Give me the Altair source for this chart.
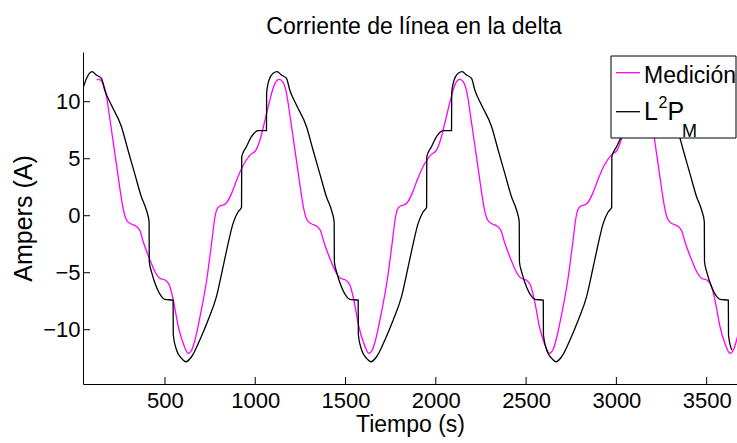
import altair as alt
import pandas as pd

# ---------------- data ----------------
TITLE = "Corriente de línea en la delta"
X_TITLE = "Tiempo (s)"
Y_TITLE = "Ampers (A)"
X_TICKS = [500, 1000, 1500, 2000, 2500, 3000, 3500]
Y_TICKS = [-10, -5, 0, 5, 10]
X_DOMAIN = [46, 3668]
Y_DOMAIN = [-14.76, 14.36]
LEGEND_LABELS = ["Medición", "L", "2", "P", "M"]

# Medición (magenta)
med_t = [122,
         133, 152, 171, 193, 213, 233, 251, 268, 288, 313, 338, 361, 380, 417, 445, 472, 500, 524, 546, 574,
         601, 629, 648, 666, 694, 731, 758, 777, 786, 804, 823, 841, 869, 897, 934, 971, 1004, 1026, 1054, 1081, 1109,
         1133, 1152, 1171, 1193, 1213, 1233, 1251, 1268, 1288, 1313, 1338, 1361, 1380, 1417, 1445, 1472, 1500, 1524, 1546, 1574,
         1601, 1629, 1648, 1666, 1694, 1731, 1758, 1777, 1786, 1804, 1823, 1841, 1869, 1897, 1934, 1971, 2004, 2026, 2054, 2081, 2109,
         2133, 2152, 2171, 2193, 2213, 2233, 2251, 2268, 2288, 2313, 2338, 2361, 2380, 2417, 2445, 2472, 2500, 2524, 2546, 2574,
         2601, 2629, 2648, 2666, 2694, 2731, 2758, 2777, 2786, 2804, 2823, 2841, 2869, 2897, 2934, 2971, 3004, 3026, 3054, 3081, 3109,
         3133, 3152, 3171, 3193, 3213, 3233, 3251, 3268, 3288, 3313, 3338, 3361, 3380, 3417, 3445, 3472, 3500, 3524, 3546, 3574,
         3601, 3629, 3648, 3666, 3694]
med_v = [11.9,
         11.96, 11.75, 10.9, 8.69, 6.5, 4.3, 2.3, 0.65, -0.4, -0.73, -0.9, -1.3, -2.3, -3.89, -4.91, -5.49, -5.64, -6.08, -7.4, -9.74,
         -11.19, -12.07, -11.78, -10.9, -8.86, -5.64, -2.42, -0.09, 0.5, 0.85, 0.94, 1.14, 1.96, 3.13, 4.45, 5.32, 5.76, 6.64, 8.39, 10.15, 11.61,
         11.96, 11.75, 10.9, 8.69, 6.5, 4.3, 2.3, 0.65, -0.4, -0.73, -0.9, -1.3, -2.3, -3.89, -4.91, -5.49, -5.64, -6.08, -7.4, -9.74,
         -11.19, -12.07, -11.78, -10.9, -8.86, -5.64, -2.42, -0.09, 0.5, 0.85, 0.94, 1.14, 1.96, 3.13, 4.45, 5.32, 5.76, 6.64, 8.39, 10.15, 11.61,
         11.96, 11.75, 10.9, 8.69, 6.5, 4.3, 2.3, 0.65, -0.4, -0.73, -0.9, -1.3, -2.3, -3.89, -4.91, -5.49, -5.64, -6.08, -7.4, -9.74,
         -11.19, -12.07, -11.78, -10.9, -8.86, -5.64, -2.42, -0.09, 0.5, 0.85, 0.94, 1.14, 1.96, 3.13, 4.45, 5.32, 5.76, 6.64, 8.39, 10.15, 11.61,
         11.96, 11.75, 10.9, 8.69, 6.5, 4.3, 2.3, 0.65, -0.4, -0.73, -0.9, -1.3, -2.3, -3.89, -4.91, -5.49, -5.64, -6.08, -7.4, -9.74,
         -11.19, -12.07, -11.78, -10.9, -8.86]

# L²P_M (black)
l2pm_t = [46, 66,
          96, 120, 148, 166, 203, 259, 295, 332, 369, 397, 412, 413, 425, 453, 481, 499, 545, 546, 564, 592, 615, 647,
          693, 739, 785, 822, 850, 877, 905, 924, 925, 951, 979, 1016, 1062, 1063, 1071, 1099,
          1121, 1145, 1173, 1191, 1228, 1284, 1320, 1357, 1394, 1422, 1437, 1438, 1450, 1478, 1506, 1524, 1570, 1571, 1589, 1617, 1640, 1672,
          1718, 1764, 1810, 1847, 1875, 1902, 1930, 1949, 1950, 1976, 2004, 2041, 2087, 2088, 2096, 2124,
          2146, 2170, 2198, 2216, 2253, 2309, 2345, 2382, 2419, 2447, 2462, 2463, 2475, 2503, 2531, 2549, 2595, 2596, 2614, 2642, 2665, 2697,
          2743, 2789, 2835, 2872, 2900, 2927, 2955, 2974, 2975, 3001, 3029, 3066, 3112, 3113, 3121, 3149,
          3171, 3195, 3223, 3241, 3278, 3334, 3370, 3407, 3444, 3472, 3487, 3488, 3500, 3528, 3556, 3574, 3620, 3621, 3639]
l2pm_v = [11.17, 12.05,
          12.63, 12.34, 12.05, 11.03, 9.71, 7.81, 5.76, 3.72, 1.67, 0.5, -0.53, -4.04, -4.91, -6.28, -7.1, -7.34, -7.4, -10.46, -11.78, -12.51, -12.81, -12.37,
          -10.9, -9.15, -7.1, -4.47, -2.42, -0.67, 0.35, 0.74, 5.18, 6.05, 6.93, 7.46, 7.46, 10.74, 11.61, 12.49,
          12.63, 12.34, 12.05, 11.03, 9.71, 7.81, 5.76, 3.72, 1.67, 0.5, -0.53, -4.04, -4.91, -6.28, -7.1, -7.34, -7.4, -10.46, -11.78, -12.51, -12.81, -12.37,
          -10.9, -9.15, -7.1, -4.47, -2.42, -0.67, 0.35, 0.74, 5.18, 6.05, 6.93, 7.46, 7.46, 10.74, 11.61, 12.49,
          12.63, 12.34, 12.05, 11.03, 9.71, 7.81, 5.76, 3.72, 1.67, 0.5, -0.53, -4.04, -4.91, -6.28, -7.1, -7.34, -7.4, -10.46, -11.78, -12.51, -12.81, -12.37,
          -10.9, -9.15, -7.1, -4.47, -2.42, -0.67, 0.35, 0.74, 5.18, 6.05, 6.93, 7.46, 7.46, 10.74, 11.61, 12.49,
          12.63, 12.34, 12.05, 11.03, 9.71, 7.81, 5.76, 3.72, 1.67, 0.5, -0.53, -4.04, -4.91, -6.28, -7.1, -7.34, -7.4, -10.46, -11.78]

MAGENTA = "#FF00FF"
BLACK = "#000000"
FONT = "Liberation Sans"
W, H = 654, 332

med_df = pd.DataFrame({"t": med_t, "v": med_v})
l2_df = pd.DataFrame({"t": l2pm_t, "v": l2pm_v})

xs = alt.Scale(domain=X_DOMAIN, nice=False, zero=False)
ys = alt.Scale(domain=Y_DOMAIN, nice=False, zero=False)

xaxis = alt.Axis(values=X_TICKS, title=X_TITLE, ticks=False, grid=False, format="d",
                 domainColor="black", domainWidth=1, labelColor="black", labelFont=FONT,
                 labelFontSize=22, labelPadding=6, titleFont=FONT, titleFontSize=23,
                 titleFontWeight="normal", titleColor="black", titlePadding=2)
yaxis = alt.Axis(values=Y_TICKS, title=Y_TITLE, ticks=False, grid=False, format="d",
                 domainColor="black", domainWidth=1, labelColor="black", labelFont=FONT,
                 labelFontSize=22, labelPadding=3, titleFont=FONT, titleFontSize=25,
                 titleFontWeight="normal", titleColor="black", titlePadding=6)

med_line = alt.Chart(med_df).mark_line(color=MAGENTA, strokeWidth=1.3, clip=True,
                                       interpolate="monotone").encode(
    x=alt.X("t:Q", scale=xs, axis=xaxis),
    y=alt.Y("v:Q", scale=ys, axis=yaxis),
)
l2_line = alt.Chart(l2_df).mark_line(color=BLACK, strokeWidth=1.3, clip=True,
                                     interpolate="monotone").encode(
    x=alt.X("t:Q", scale=xs, axis=xaxis),
    y=alt.Y("v:Q", scale=ys, axis=yaxis),
)

# inward ticks (MATLAB style)
xticks = alt.Chart(pd.DataFrame({"t": X_TICKS})).mark_rule(color="black", strokeWidth=1).encode(
    x=alt.X("t:Q", scale=xs, axis=xaxis), y=alt.value(H), y2=alt.value(H - 7))
yticks = alt.Chart(pd.DataFrame({"v": Y_TICKS})).mark_rule(color="black", strokeWidth=1).encode(
    y=alt.Y("v:Q", scale=ys, axis=yaxis), x=alt.value(0), x2=alt.value(7))

# legend box drawn by hand
one = pd.DataFrame({"k": [0]})
box = alt.Chart(one).mark_rect(fill="white", stroke="black", strokeWidth=1).encode(
    x=alt.value(528), x2=alt.value(653), y=alt.value(4), y2=alt.value(86))
sw_m = alt.Chart(one).mark_rule(color=MAGENTA, strokeWidth=1.3).encode(
    x=alt.value(533), x2=alt.value(557), y=alt.value(20.7))
sw_b = alt.Chart(one).mark_rule(color=BLACK, strokeWidth=1.3).encode(
    x=alt.value(533), x2=alt.value(557), y=alt.value(59.7))


def txt(s, x, y, size):
    return alt.Chart(one).mark_text(align="left", baseline="alphabetic", font=FONT,
                                    fontSize=size, color="black").encode(
        x=alt.value(x), y=alt.value(y), text=alt.value(s))


lab_med = txt(LEGEND_LABELS[0], 561, 30.7, 23)
lab_L = txt(LEGEND_LABELS[1], 561, 68, 25)
lab_2 = txt(LEGEND_LABELS[2], 575.5, 56.3, 16)
lab_P = txt(LEGEND_LABELS[3], 584.5, 68, 25)
lab_M = txt(LEGEND_LABELS[4], 599, 85, 18)

chart = alt.layer(med_line, l2_line, xticks, yticks, box, sw_m, sw_b,
                  lab_med, lab_L, lab_2, lab_P, lab_M).properties(
    width=W, height=H,
    title=alt.TitleParams(text=TITLE, font=FONT, fontSize=23, fontWeight="normal",
                          color="black", anchor="middle", frame="group",
                          baseline="alphabetic", offset=20, dx=4, dy=25),
    autosize=alt.AutoSizeParams(type="none"),
    padding={"left": 83, "top": 52, "right": 0, "bottom": 59},
    background="white",
).configure_view(strokeWidth=0)

chart.save("out.html", embed_options={"renderer": "svg", "actions": False})
